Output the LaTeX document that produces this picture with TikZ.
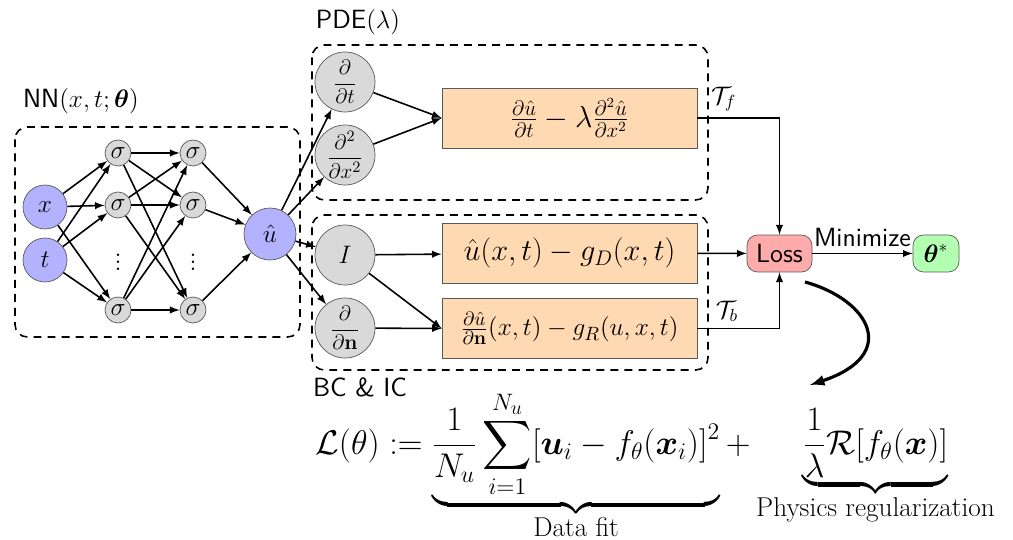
\documentclass[tikz,border=0pt]{standalone}
\usepackage{amsmath,amssymb}
\usetikzlibrary{arrows,calc,positioning}

\begin{document}
\begin{tikzpicture}[x=0.02cm, y=-0.02cm,
  font=\fontsize{14.5}{17}\selectfont,
  unit/.style={circle, draw=black!65, fill=#1, inner sep=0pt},
  io/.style={unit=blue!30, minimum size=0.88cm},
  hidden/.style={unit=black!15, minimum size=0.52cm},
  oper/.style={unit=black!15, minimum size=1.2cm, font=\fontsize{12.6}{15}\selectfont},
  residual/.style={draw=black!65, fill=orange!30, minimum width=5.1cm, minimum height=1.2cm, font=\fontsize{17}{20}\selectfont},
  result/.style={draw=black!65, rounded corners=6pt, minimum height=0.74cm, fill=#1},
  block/.style={draw, line width=0.9pt, dash pattern=on 4.5pt off 3.5pt, rounded corners=7pt},
  arr/.style={->, >=latex, line width=0.9pt},
  tag/.style={font=\sffamily\fontsize{15}{18}\selectfont},
]
\useasboundingbox (0,0) rectangle (1013,540);
% groups
\draw[block] (15,127) rectangle (300,337);
\draw[block] (312,45) rectangle (708,200);
\draw[block] (312,215) rectangle (708,370);
\node[tag] (nnlab) at (81,101) {NN$(x,t;\boldsymbol{\theta})$};
\node[tag] (pdelab) at (358,22) {PDE$(\lambda)$};
\node[tag] (bclab) at (360,387) {BC \& IC};
% network
\node[io] (x) at (45,207) {$x$};
\node[io] (t) at (45,260) {$t$};
\foreach \l/\px in {1/118,2/193} {
  \foreach \r/\py in {a/153,b/205,c/310}
    \node[hidden] (s\l\r) at (\px,\py) {$\sigma$};
  \node (dots\l) at (\px,257) {$\vdots$};
}
\node[io, minimum size=1.04cm] (uhat) at (270,234) {$\hat{u}$};
\foreach \i in {x,t}
  \foreach \j in {a,b,c}
    \draw[arr] (\i) -- (s1\j);
\foreach \i in {a,b,c} {
  \foreach \j in {a,b,c}
    \draw[arr] (s1\i) -- (s2\j);
  \draw[arr] (s2\i) -- (uhat);
}
% operators and residuals
\node[oper] (dt) at (345,82) {$\dfrac{\partial}{\partial t}$};
\node[oper] (dxx) at (345,155) {$\dfrac{\partial^2}{\partial x^2}$};
\node[oper, font=\fontsize{14.5}{17}\selectfont] (id) at (345,255) {$I$};
\node[oper] (dn) at (345,328) {$\dfrac{\partial}{\partial \mathbf{n}}$};
\node[residual] (pde) at (569.5,118) {$\frac{\partial \hat{u}}{\partial t} - \lambda\frac{\partial^2 \hat{u}}{\partial x^2}$};
\node[residual] (dir) at (569.5,253) {$\hat{u}(x,t) - g_D(x,t)$};
\node[residual, font=\fontsize{15.5}{18}\selectfont] (rob) at (569.5,328.5) {$\frac{\partial \hat{u}}{\partial \mathbf{n}}(x,t) - g_R(u,x,t)$};
\foreach \n in {dt,dxx,id,dn}
  \draw[arr] (uhat) -- (\n);
\draw[arr] (dt) -- (pde.west);
\draw[arr] (dxx) -- (pde.west);
\draw[arr] (id) -- (dir);
\draw[arr] (id) -- (rob.west);
\draw[arr] (dn) -- (rob.west);
% loss
\node[result=red!33, minimum width=1.3cm, tag] (loss) at (779.5,253.5) {Loss};
\node[result=green!30, minimum width=0.92cm] (opt) at (936,253.5) {$\boldsymbol{\theta}^*$};
\draw[arr] (dir) -- (loss);
\draw[arr] (pde.east) -| node[pos=0.16, above] (tf) {$\mathcal{T}_f$} (loss.north);
\draw[arr] (rob.east) -| node[pos=0.18, above] (tb) {$\mathcal{T}_b$} (loss.south);
\draw[arr] (loss) -- node[above, tag] (minlab) {Minimize} (opt);
\coordinate (cin) at (805,282);
\coordinate (cout) at (810,385);
\draw[arr, line width=1.8pt] (cin) .. controls (870,300) and (900,355) .. (cout);
% objective
\node[anchor=base west, inner sep=0pt, transform shape, scale=0.94, font=\fontsize{20.74}{25}\selectfont] (objective) at (315,454)
  {$\displaystyle \mathcal{L}(\theta) := \underbrace{\frac{1}{N_u}\sum_{i=1}^{N_u}[\boldsymbol{u}_i - f_\theta(\boldsymbol{x}_i)]^2}_{\text{\fontsize{16.5}{19}\selectfont Data fit}} + \underbrace{\frac{1}{\lambda}\mathcal{R}[f_\theta(\boldsymbol{x})]}_{\text{\fontsize{16.5}{19}\selectfont Physics regularization}}$};
\end{tikzpicture}
\end{document}
